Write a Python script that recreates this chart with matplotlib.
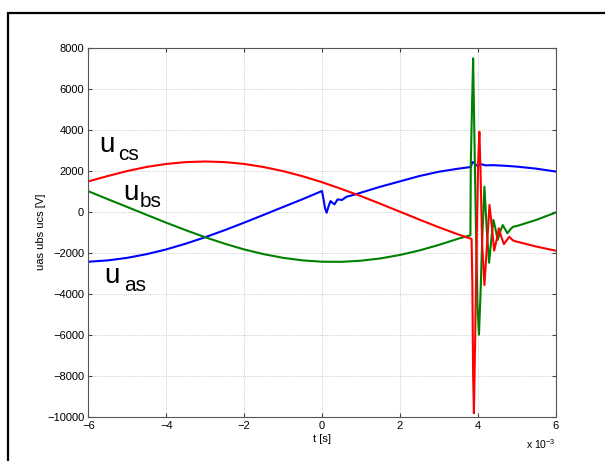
import matplotlib
matplotlib.use("Agg")
import matplotlib.pyplot as plt
from matplotlib.patches import Rectangle

plt.rcParams['font.family'] = ['Liberation Sans', 'DejaVu Sans']
plt.rcParams['mathtext.fontset'] = 'custom'
plt.rcParams['mathtext.rm'] = 'Liberation Sans'

# time in ms (axis shows x 10^-3 s)
t_ucs = [-6, -5.5, -5, -4.5, -4, -3.5, -3, -2.5, -2, -1.5, -1, -0.5, 0, 0.5, 1,
         1.5, 2, 2.5, 3, 3.5, 3.84, 3.86, 3.88, 3.90, 3.93, 3.97, 4.01, 4.04,
         4.07, 4.11, 4.17, 4.24, 4.30, 4.36, 4.42, 4.48, 4.54, 4.60, 4.67,
         4.74, 4.81, 4.90, 5.0, 5.5, 6.0]
ucs = [1480, 1740, 1985, 2185, 2330, 2420, 2450, 2420, 2330, 2180, 1980, 1730,
       1440, 1110, 760, 385, 0, -385, -760, -1110, -1330, -3500, -8000, -9830,
       -6500, -1500, 2500, 3900, 2000, -1500, -3580, -1500, 330, -700, -1900,
       -1400, -810, -1200, -1580, -1400, -1220, -1400, -1460, -1700, -1900]

t_ubs = [-6, -5.5, -5, -4.5, -4, -3.5, -3, -2.5, -2, -1.5, -1, -0.5, 0, 0.5, 1,
         1.5, 2, 2.5, 3, 3.5, 3.81, 3.82, 3.85, 3.88, 3.91, 3.95, 3.99, 4.03,
         4.07, 4.11, 4.17, 4.23, 4.29, 4.35, 4.40, 4.45, 4.51, 4.58, 4.64,
         4.70, 4.76, 4.84, 4.91, 5.0, 5.5, 6.0]
ubs = [1000, 610, 230, -155, -535, -900, -1245, -1560, -1840, -2070, -2250,
       -2375, -2440, -2445, -2390, -2280, -2110, -1890, -1620, -1315, -1150,
       2300, 5000, 7480, 4000, -500, -4500, -6000, -4000, -1500, 1220, -900,
       -2490, -1300, -400, -800, -1380, -950, -650, -850, -1050, -850, -730,
       -700, -400, -40]

t_uas = [-6, -5.5, -5, -4.5, -4, -3.5, -3, -2.5, -2, -1.5, -1, -0.5, 0, 0.04,
         0.08, 0.12, 0.17, 0.22, 0.27, 0.32, 0.36, 0.40, 0.45, 0.51, 0.57,
         0.63, 0.75, 0.89, 1.0, 1.5, 2.0, 2.5, 3.0, 3.5, 3.82, 3.86, 3.9, 3.95,
         4.0, 4.05, 4.1, 4.2, 4.4, 4.7, 5.0, 5.5, 6.0]
uas = [-2440, -2375, -2250, -2070, -1840, -1560, -1245, -900, -535, -155, 230,
       610, 1010, 600, 150, -50, 280, 520, 430, 360, 480, 600, 590, 570, 650,
       730, 790, 863, 930, 1220, 1480, 1740, 1950, 2100, 2180, 2420, 2400,
       2280, 2230, 2300, 2310, 2260, 2270, 2240, 2200, 2100, 1960]

x_ticks = [-6, -4, -2, 0, 2, 4, 6]
y_ticks = [-10000, -8000, -6000, -4000, -2000, 0, 2000, 4000, 6000, 8000]


def main():
    fig = plt.figure(figsize=(6.05, 4.61), dpi=100)
    fig.patches.append(Rectangle((8 / 605, -0.1), 1.2, 1 - 13 / 461 + 0.1,
                                 transform=fig.transFigure, fill=False,
                                 edgecolor='black', linewidth=1.6))
    ax = fig.add_axes([0.146, 0.0961, 0.7725, 0.8004])

    ax.plot(t_uas, uas, color='#0000ff', lw=1.5)
    ax.plot(t_ubs, ubs, color='#008000', lw=1.5)
    ax.plot(t_ucs, ucs, color='#ff0000', lw=1.5)

    ax.set_xlim(-6, 6)
    ax.set_ylim(-10000, 8000)
    ax.set_xticks(x_ticks)
    ax.set_yticks(y_ticks)
    ax.tick_params(direction='in', length=3, labelsize=8, top=True,
                   right=True, color='#444444', pad=3)
    ax.grid(True, linestyle=':', color='#b8b8b8', linewidth=0.6)
    for s in ax.spines.values():
        s.set_color('#555555')
        s.set_linewidth(0.8)

    ax.set_xlabel('t [s]', fontsize=8, labelpad=2)
    ax.set_ylabel('uas ubs ucs [V]', fontsize=8, labelpad=1)
    ax.text(1.0, -0.055, r'x 10$^{-3}$', transform=ax.transAxes,
            ha='right', va='top', fontsize=7.5)

    # curve labels
    ax.text(-5.71, 2912, 'u', fontsize=20, va='baseline')
    ax.text(-5.24, 2522, 'cs', fontsize=15, va='baseline')
    ax.text(-5.11, 571, 'u', fontsize=20, va='baseline')
    ax.text(-4.67, 229, 'bs', fontsize=15, va='baseline')
    ax.text(-5.60, -3483, 'u', fontsize=20, va='baseline')
    ax.text(-5.08, -3873, 'as', fontsize=15, va='baseline')

    fig.savefig('out.png', dpi=100)


if __name__ == '__main__':
    main()
